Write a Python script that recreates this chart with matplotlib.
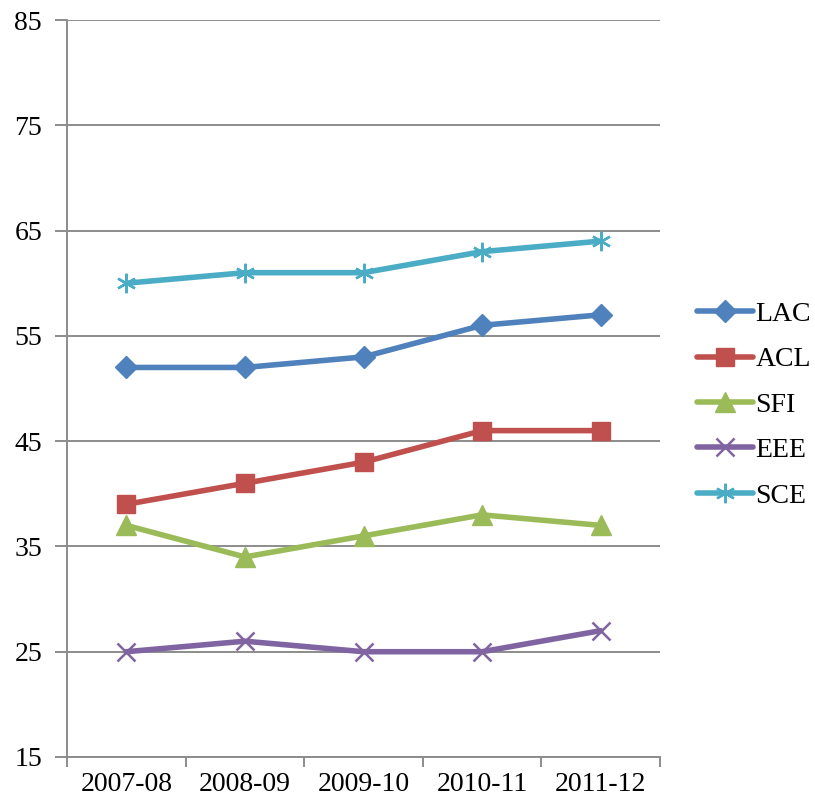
import matplotlib
matplotlib.use("Agg")
import matplotlib.pyplot as plt
import numpy as np

years = ["2007-08", "2008-09", "2009-10", "2010-11", "2011-12"]
lac = [52, 52, 53, 56, 57]
acl = [39, 41, 43, 46, 46]
sfi = [37, 34, 36, 38, 37]
eee = [25, 26, 25, 25, 27]
sce = [60, 61, 61, 63, 64]

plt.rcParams["font.family"] = ["Liberation Serif", "DejaVu Serif"]

fig = plt.figure(figsize=(8.15, 8.02), dpi=100)
ax = fig.add_axes([67 / 815, 45 / 802, (660 - 67) / 815, (757 - 20) / 802])

x = np.arange(len(years))
grid_c = "#8c8c8c"

series = [
    ("LAC", lac, "#4F81BD", dict(marker="D", markersize=11)),
    ("ACL", acl, "#C0504D", dict(marker="s", markersize=13.5)),
    ("SFI", sfi, "#9BBB59", dict(marker="^", markersize=14)),
    ("EEE", eee, "#8064A2", dict(marker="x", markersize=13, markeredgewidth=1.8)),
    ("SCE", sce, "#4BACC6", dict(marker=(6, 2, 0), markersize=14, markeredgewidth=1.7)),
]
for name, vals, col, mk in series:
    ax.plot(x, vals, color=col, lw=4.0, label=name, markerfacecolor=col,
            markeredgecolor=col, solid_capstyle="round", zorder=3, **mk)

ax.set_xlim(-0.5, len(years) - 0.5)
ax.set_ylim(15, 85)
ax.set_yticks(np.arange(15, 86, 10))
ax.yaxis.grid(True, color=grid_c, lw=1.4)
ax.set_axisbelow(True)

ax.set_xticks(x)
ax.set_xticklabels(years)
ax.set_xticks(np.arange(-0.5, len(years), 1.0), minor=True)
ax.tick_params(axis="x", which="major", length=0, labelsize=20, pad=11)
ax.tick_params(axis="x", which="minor", length=7, width=1.4, color=grid_c)
ax.tick_params(axis="y", length=9, width=1.4, color=grid_c, labelsize=20, pad=9)

for side in ["top", "right"]:
    ax.spines[side].set_visible(False)
for side in ["left", "bottom"]:
    ax.spines[side].set_color(grid_c)
    ax.spines[side].set_linewidth(1.4)

ax.legend(loc="center left", bbox_to_anchor=(697 / 815, 1 - 405 / 802),
          bbox_transform=fig.transFigure, frameon=False, fontsize=20,
          handlelength=2.0, handletextpad=0.1, labelspacing=0.72,
          borderaxespad=0, borderpad=0)

fig.savefig("out.png", dpi=100)
